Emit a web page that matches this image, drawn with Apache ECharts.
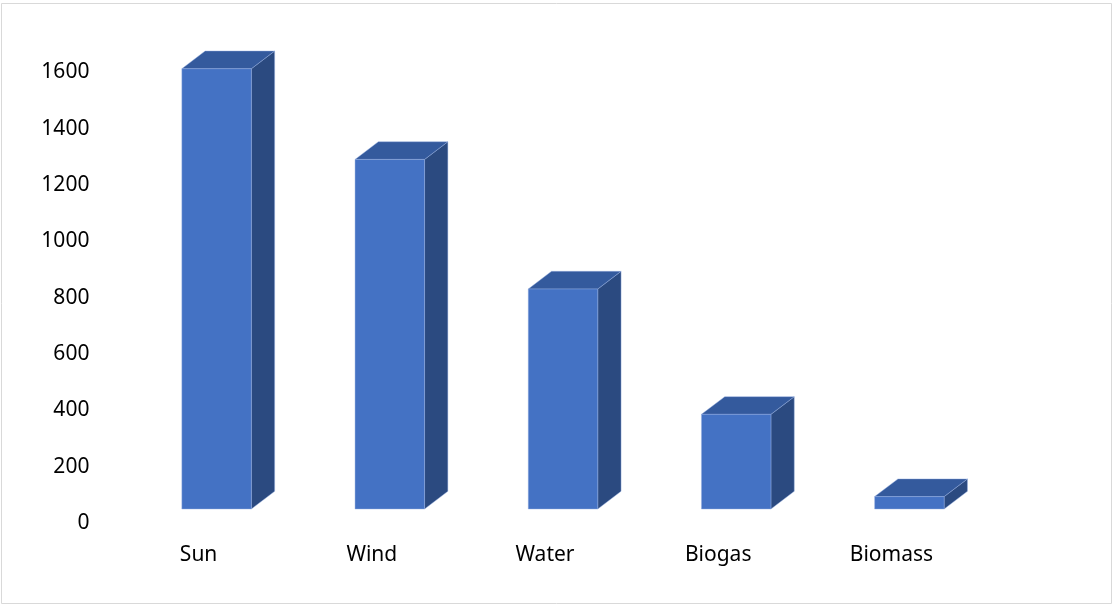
<!DOCTYPE html>
<html>
<head>
<meta charset="utf-8">
<title>Renewable sources</title>
<script src="https://cdn.jsdelivr.net/npm/echarts@6/dist/echarts.min.js"></script>
<style>
  html, body { margin: 0; padding: 0; background: #ffffff; }
  #chart { width: 1114px; height: 606px; }
</style>
</head>
<body>
<div id="chart"></div>
<script>
// Categories and values
const categories = ['Sun', 'Wind', 'Water', 'Biogas', 'Biomass'];
const values = [1563, 1241, 781, 336, 44];
const yTicks = [0, 200, 400, 600, 800, 1000, 1200, 1400, 1600];

// Box geometry (pixels): front face width, recess of the front face, depth vector
const BAR_W = 69.5;
const RECESS_X = 18;
const RECESS_Y = 14;
const DEPTH_X = 23.3;
const DEPTH_Y = 17.7;

const FRONT = '#4472C4';
const TOP = '#345A9D';
const SIDE = '#2B4A80';
const EDGE = 'rgba(150,175,225,0.55)';

function renderBox(params, api) {
  const idx = api.value(0);
  const val = api.value(1);
  const base = api.coord([idx, 0]);
  const head = api.coord([idx, val]);
  const cx = base[0] + RECESS_X;
  const x0 = cx - BAR_W / 2;
  const x1 = cx + BAR_W / 2;
  const yb = base[1] - RECESS_Y;
  const yt = head[1] - RECESS_Y;
  const edge = { stroke: EDGE, lineWidth: 0.8 };
  return {
    type: 'group',
    children: [
      {
        type: 'polygon',
        shape: { points: [[x1, yb], [x1, yt], [x1 + DEPTH_X, yt - DEPTH_Y], [x1 + DEPTH_X, yb - DEPTH_Y]] },
        style: Object.assign({ fill: SIDE }, edge)
      },
      {
        type: 'polygon',
        shape: { points: [[x0, yt], [x1, yt], [x1 + DEPTH_X, yt - DEPTH_Y], [x0 + DEPTH_X, yt - DEPTH_Y]] },
        style: Object.assign({ fill: TOP }, edge)
      },
      {
        type: 'rect',
        shape: { x: x0, y: yt, width: BAR_W, height: yb - yt },
        style: Object.assign({ fill: FRONT }, edge)
      }
    ]
  };
}

const chart = echarts.init(document.getElementById('chart'), null, { renderer: 'canvas' });

const option = {
  backgroundColor: '#ffffff',
  animation: false,
  graphic: [{
    type: 'rect',
    shape: { x: 1.5, y: 3.5, width: 1110, height: 600 },
    style: { fill: 'none', stroke: '#d9d9d9', lineWidth: 1 },
    silent: true
  }],
  grid: { left: 112, right: 136, top: 72.3, bottom: 83, containLabel: false },
  xAxis: {
    type: 'category',
    data: categories,
    axisLine: { show: false },
    axisTick: { show: false },
    splitLine: { show: false },
    axisLabel: {
      margin: 22,
      color: '#000000',
      fontFamily: 'Noto Sans',
      fontSize: 21,
      interval: 0
    }
  },
  yAxis: {
    type: 'value',
    min: yTicks[0],
    max: yTicks[yTicks.length - 1],
    interval: 200,
    axisLine: { show: false },
    axisTick: { show: false },
    splitLine: { show: false },
    axisLabel: {
      margin: 22.6,
      color: '#000000',
      fontFamily: 'Noto Sans',
      fontSize: 21,
      formatter: (v) => String(v)
    }
  },
  series: [{
    type: 'custom',
    renderItem: renderBox,
    clip: false,
    data: values.map((v, i) => [i, v])
  }]
};

chart.setOption(option);
</script>
</body>
</html>
